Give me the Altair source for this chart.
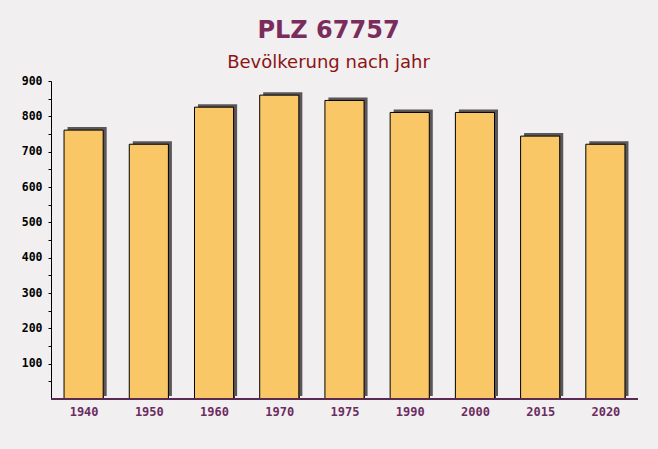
import altair as alt
import pandas as pd

years = ["1940", "1950", "1960", "1970", "1975", "1990", "2000", "2015", "2020"]
population = [761, 721, 826, 860, 845, 811, 811, 744, 721]
y_ticks = [50, 100, 150, 200, 250, 300, 350, 400, 450, 500, 550, 600, 650, 700, 750, 800, 850, 900]

df = pd.DataFrame({"jahr": years, "einwohner": population})

x_axis = alt.Axis(
    title=None,
    domain=False,
    offset=-4,
    tickSize=4,
    tickBand="extent",
    tickColor="#5a2a50",
    labelAngle=0,
    labelPadding=7,
    labelFont="DejaVu Sans Mono",
    labelFontWeight="bold",
    labelFontSize=12,
    labelColor="#6b2c5f",
)
x_scale = alt.Scale(paddingInner=0.4, paddingOuter=0.2)

y_scale = alt.Scale(domain=[0, 900], nice=False)

y_axis = alt.Axis(
    title=None,
    values=y_ticks,
    grid=False,
    domainColor="#000000",
    tickColor="#000000",
    tickSize=3,
    labelPadding=6,
    labelOverlap=False,
    labelFont="DejaVu Sans Mono",
    labelFontWeight="bold",
    labelFontSize=11.5,
    labelColor="#000000",
    labelExpr="(datum.value % 100 == 0) ? format(datum.value, 'd') : ''",
)

x_enc = alt.X("jahr:N", sort=years, scale=x_scale, axis=x_axis)
y_enc = alt.Y("einwohner:Q", scale=y_scale, axis=y_axis)

shadow = alt.Chart(df).mark_bar(
    color="#5b5659", xOffset=3.5, x2Offset=3.5, yOffset=-3, y2Offset=-3
).encode(x=x_enc, y=y_enc)

bars = alt.Chart(df).mark_bar(
    color="#f9c766", stroke="#000000", strokeWidth=1
).encode(x=x_enc, y=y_enc)

baseline = alt.Chart(df).mark_rule(color="#5a2a50", strokeWidth=1).encode(
    y=alt.YDatum(0, scale=y_scale, axis=y_axis)
)

chart = alt.layer(shadow, bars, baseline).properties(
    width=587,
    height=318,
    background="#f2eff1",
    padding={"left": 51, "top": 81, "right": 20, "bottom": 50},
    autosize=alt.AutoSizeParams(type="none"),
    title=alt.TitleParams(
        text="PLZ 67757",
        subtitle="Bevölkerung nach jahr",
        anchor="middle",
        dx=-16,
        offset=3,
        font="DejaVu Sans",
        fontSize=24,
        fontWeight="bold",
        color="#7a2d5d",
        subtitleFont="DejaVu Sans",
        subtitleFontSize=18,
        subtitleColor="#8b1414",
        subtitlePadding=11,
    ),
).configure_view(stroke=None)

chart.save("out.html", embed_options={"renderer": "svg", "actions": False})
